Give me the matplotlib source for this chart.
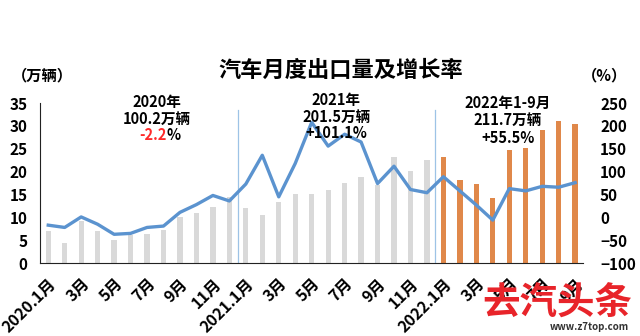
import matplotlib
matplotlib.use('Agg')

import numpy as np
import matplotlib.pyplot as plt

plt.rcParams['font.family'] = ['Noto Sans CJK SC', 'DejaVu Sans']
plt.rcParams['font.weight'] = 'bold'

# monthly exports, 10k vehicles, 2020.1 - 2022.9
export_2020 = [7.0, 4.5, 9.3, 7.1, 5.0, 6.1, 6.3, 7.2, 10.0, 11.0, 12.3, 14.5]
export_2021 = [12.0, 10.6, 13.3, 15.2, 15.2, 16.0, 17.6, 18.8, 17.1, 23.3, 20.2, 22.5]
export_2022 = [23.3, 18.2, 17.2, 14.3, 24.7, 25.1, 29.2, 31.1, 30.4]

# year-on-year growth, %
growth = [-17, -22, 1, -15, -37, -35, -22, -19, 11, 28, 48, 36,
          73, 136, 45, 118, 208, 156, 182, 165, 74, 112, 61, 54,
          89, 58, 27, -6, 63, 58, 68, 66, 76]

tick_labels = ['2020.1月', '3月', '5月', '7月', '9月', '11月',
               '2021.1月', '3月', '5月', '7月', '9月', '11月',
               '2022.1月', '3月', '5月', '7月', '9月']

exports = export_2020 + export_2021 + export_2022
n = len(exports)
x = np.arange(n)
colors = ['#D9D9D9'] * 24 + ['#E0884A'] * 9

fig = plt.figure(figsize=(6.4, 3.36), dpi=100)
ax = fig.add_axes([0.0625, 0.217, 0.849, 0.476])
ax.bar(x, exports, width=0.32, color=colors, zorder=2)
ax.set_xlim(-0.5, n - 0.5)
ax.set_ylim(0, 35)
ax.set_yticks(range(0, 36, 5))
ax.set_xticks(x[::2])
ax.set_xticklabels(tick_labels, rotation=45, ha='right', rotation_mode='anchor',
                   fontsize=11.5, fontweight='bold')
ax.tick_params(axis='x', length=0, pad=9)
ax.tick_params(axis='y', length=0, pad=9, labelsize=11)
for s in ['top', 'right']:
    ax.spines[s].set_visible(False)
ax.spines['bottom'].set_color('#222222')
ax.spines['left'].set_color('#222222')

# year separators
for xv in [11.5, 23.5]:
    ax.plot([xv, xv], [0, 33.5], color='#9DC3E6', lw=0.9, zorder=1)

ax2 = ax.twinx()
ax2.plot(x, growth, color='#5B93CF', lw=2.4, zorder=3)
ax2.set_ylim(-100, 250)
ax2.set_yticks(range(-100, 251, 50))
ax2.tick_params(axis='y', length=0, pad=12, labelsize=11)
for lab in ax2.get_yticklabels():
    lab.set_horizontalalignment('left')
for s in ax2.spines.values():
    s.set_visible(False)
for lab in ax.get_yticklabels() + ax2.get_yticklabels():
    lab.set_fontweight('bold')

# year summaries, drawn above the growth line
fs = 10.5
tr = ax.transData
kw = dict(va='center', fontsize=fs, fontweight='bold', transform=tr, zorder=5)
ax2.text(6.6, 35.3, '2020年', ha='center', **kw)
ax2.text(6.6, 31.5, '100.2万辆', ha='center', **kw)
ax2.text(7.18, 28.0, '-2.2', ha='right', color='#FF2A2A', **kw)
ax2.text(7.18, 28.0, '%', ha='left', **kw)
ax2.text(17.5, 35.7, '2021年', ha='center', **kw)
ax2.text(17.5, 31.9, '201.5万辆', ha='center', **kw)
ax2.text(17.5, 28.4, '+101.1%', ha='center', **kw)
ax2.text(27.9, 35.0, '2022年1-9月', ha='center', **kw)
ax2.text(27.9, 31.3, '211.7万辆', ha='center', **kw)
ax2.text(27.9, 27.4, '+55.5%', ha='center', **kw)

fig.text(0.533, 0.79, '汽车月度出口量及增长率', ha='center', va='center',
         fontsize=16, fontweight='bold')
fig.text(0.066, 0.775, '（万辆）', ha='center', va='center', fontsize=11, fontweight='bold')
fig.text(0.945, 0.775, '（%）', ha='center', va='center', fontsize=11, fontweight='bold')

# site logo at bottom right
fig.text(0.87, 0.098, '去汽头条', ha='center', va='center', fontsize=27,
         fontweight='heavy', color='#E8242A')
fig.text(0.92, 0.027, 'www.z7top.com', ha='center', va='center', fontsize=7,
         color='#333333')

fig.savefig('out.png', dpi=100)
